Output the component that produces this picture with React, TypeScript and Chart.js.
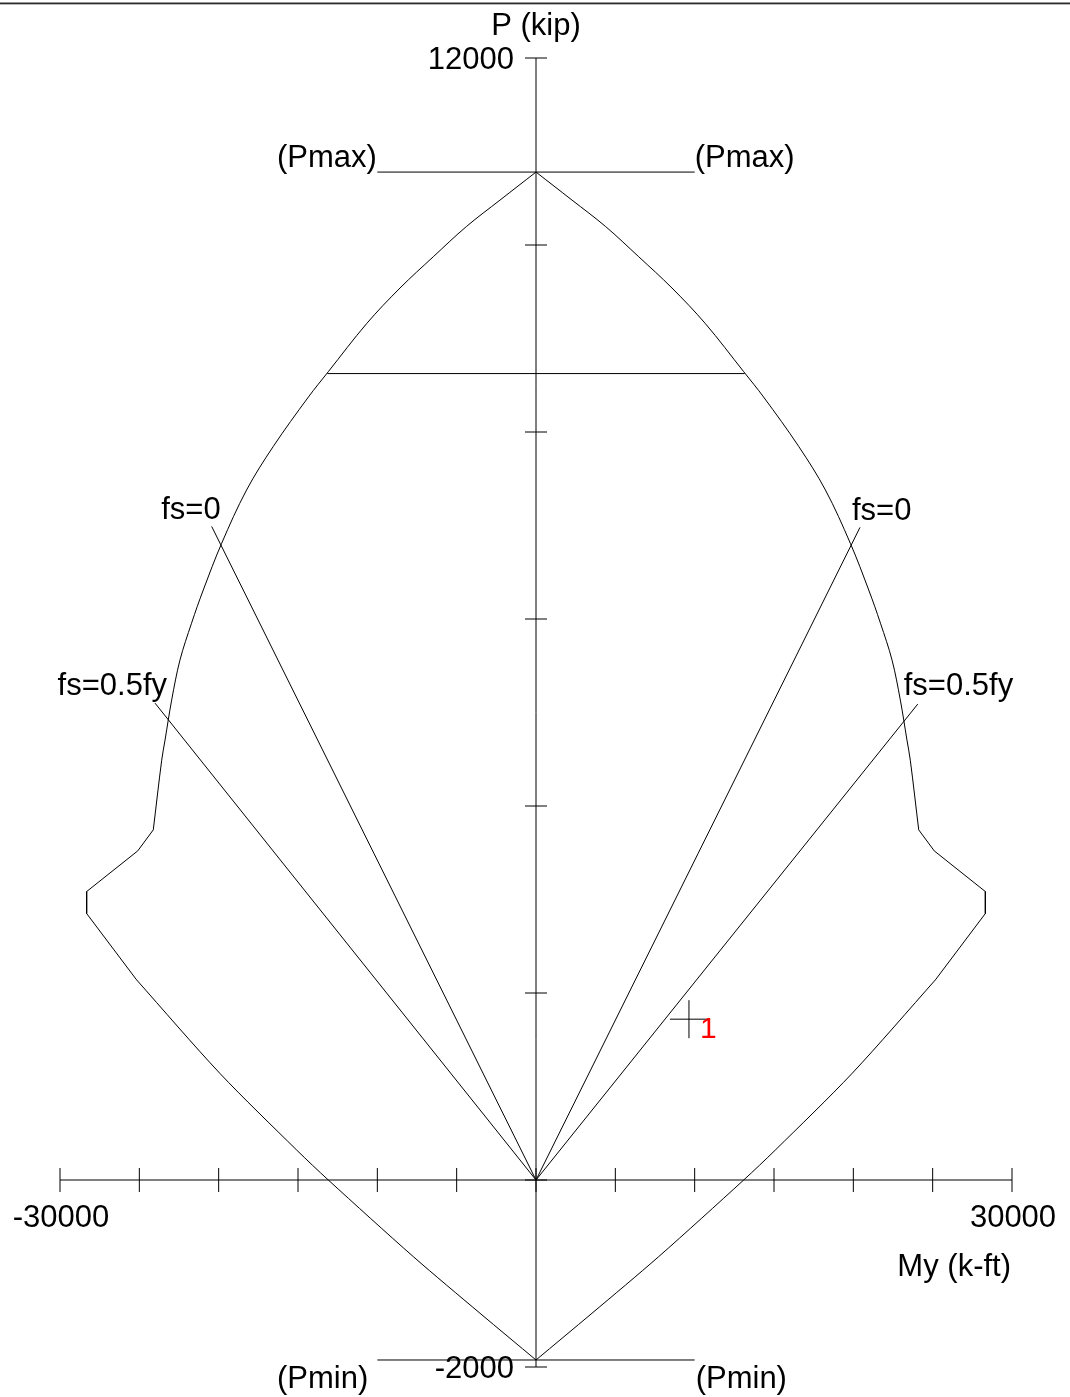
import React, { useEffect, useRef } from "react";
import { Chart, registerables } from "chart.js";

Chart.register(...registerables);

// ---- Data (M in k-ft, P in kip) ----
// Left half of the interaction curve: upper smooth branch, kink segment, lower smooth branch
const upperLeftM = [0, -2270, -4370, -6470, -8570, -10670, -13090, -14340, -16560, -18240, -19810, -20970, -21710, -22440, -22960, -23380, -23590, -24120];
const upperLeftP = [10780, 10480, 10200, 9875, 9540, 9160, 8645, 8375, 7845, 7380, 6810, 6310, 5955, 5560, 5135, 4705, 4490, 3745];
const kinkLeftM = [-24120, -25100, -28320, -28320, -25170];
const kinkLeftP = [3745, 3520, 3085, 2850, 2140];
const lowerLeftM = [-25170, -19920, -15080, -13090, -7730, -3530, 0];
const lowerLeftP = [2140, 1140, 320, 0, -820, -1425, -1925];

// Right half
const upperRightM = [0, 2270, 4370, 6470, 8570, 10670, 13090, 14340, 16560, 18240, 19810, 20970, 21710, 22440, 22960, 23380, 23590, 24120];
const upperRightP = [10780, 10480, 10200, 9875, 9540, 9160, 8645, 8375, 7845, 7380, 6810, 6310, 5955, 5560, 5135, 4705, 4490, 3745];
const kinkRightM = [24120, 25100, 28320, 28320, 25170];
const kinkRightP = [3745, 3520, 3085, 2850, 2140];
const lowerRightM = [25170, 19920, 15080, 13090, 7730, 3530, 0];
const lowerRightP = [2140, 1140, 320, 0, -820, -1425, -1925];

const pMax = 10780;
const pMin = -1925;
const pMaxLineM = [-10000, 10000];
const pMinLineM = [-10000, 10000];
const p80LineM = [-13150, 13150];
const p80 = 8625;

const fs0LeftEnd = { m: -20440, p: 6990 };
const fs0RightEnd = { m: 20420, p: 6980 };
const fs05LeftEnd = { m: -24010, p: 5100 };
const fs05RightEnd = { m: 24060, p: 5090 };

const loadPointM = [9640];
const loadPointP = [1720];
const loadPointLabels = ["1"];

const xTicks = [-30000, -25000, -20000, -15000, -10000, -5000, 0, 5000, 10000, 15000, 20000, 25000, 30000];
const yTicks = [-2000, 0, 2000, 4000, 6000, 8000, 10000, 12000];
const xTickLabelValues = [-30000, 30000];
const xTickLabelTexts = ["-30000", "30000"];
const yTickLabelValues = [12000, -2000];
const yTickLabelTexts = ["12000", "-2000"];

const X_MIN = -30000;
const X_MAX = 30000;
const Y_MIN = -2000;
const Y_MAX = 12000;

const FONT = '31px "Liberation Sans", Arial, Helvetica, sans-serif';

const toXY = (ms: number[], ps: number[]) => ms.map((m, i) => ({ x: m, y: ps[i] }));

const lineDs = (data: { x: number; y: number }[], tension = 0) => ({
  data,
  showLine: true,
  borderColor: "#000",
  borderWidth: 1,
  pointRadius: 0,
  pointHoverRadius: 0,
  fill: false,
  tension,
  clip: false as const,
});

const pmPlugin = {
  id: "pmDiagram",
  beforeDraw(chart: any) {
    const { ctx, width, height } = chart;
    ctx.save();
    ctx.fillStyle = "#ffffff";
    ctx.fillRect(0, 0, width, height);
    // top frame line
    ctx.fillStyle = "#2e2e2e";
    ctx.fillRect(0, 2.5, width, 1.5);
    ctx.fillStyle = "#b8b8b8";
    ctx.fillRect(0, 4, width, 1);
    ctx.restore();
  },
  beforeDatasetsDraw(chart: any) {
    const { ctx } = chart;
    const xs = chart.scales.x;
    const ys = chart.scales.y;
    const x0 = xs.getPixelForValue(0);
    const y0 = ys.getPixelForValue(0);
    ctx.save();
    ctx.strokeStyle = "#000";
    ctx.lineWidth = 1;
    ctx.beginPath();
    // x axis
    ctx.moveTo(xs.getPixelForValue(X_MIN), y0);
    ctx.lineTo(xs.getPixelForValue(X_MAX), y0);
    xTicks.forEach((v) => {
      const px = xs.getPixelForValue(v);
      ctx.moveTo(px, y0 - 12);
      ctx.lineTo(px, y0 + 12);
    });
    // y axis
    ctx.moveTo(x0, ys.getPixelForValue(Y_MAX));
    ctx.lineTo(x0, ys.getPixelForValue(Y_MIN));
    yTicks.forEach((v) => {
      const py = ys.getPixelForValue(v);
      ctx.moveTo(x0 - 11, py);
      ctx.lineTo(x0 + 11, py);
    });
    ctx.stroke();
    ctx.restore();
  },
  afterDatasetsDraw(chart: any) {
    const { ctx } = chart;
    const xs = chart.scales.x;
    const ys = chart.scales.y;
    const x0 = xs.getPixelForValue(0);
    const y0 = ys.getPixelForValue(0);
    ctx.save();
    ctx.font = FONT;
    ctx.fillStyle = "#000";
    ctx.textBaseline = "alphabetic";

    // axis titles
    ctx.textAlign = "center";
    ctx.fillText("P (kip)", x0, ys.getPixelForValue(Y_MAX) - 23);
    ctx.textAlign = "right";
    ctx.fillText("My (k-ft)", xs.getPixelForValue(X_MAX) - 1, y0 + 96);

    // tick labels
    ctx.textAlign = "right";
    yTickLabelValues.forEach((v, i) => {
      ctx.fillText(yTickLabelTexts[i], x0 - 22, ys.getPixelForValue(v) + 11);
    });
    ctx.textAlign = "center";
    xTickLabelValues.forEach((v, i) => {
      ctx.fillText(xTickLabelTexts[i], xs.getPixelForValue(v) + 1, y0 + 47);
    });

    // Pmax / Pmin labels
    const yPmax = ys.getPixelForValue(pMax);
    const yPmin = ys.getPixelForValue(pMin);
    ctx.textAlign = "left";
    ctx.fillText("(Pmax)", 277, yPmax - 5);
    ctx.fillText("(Pmax)", xs.getPixelForValue(pMaxLineM[1]), yPmax - 5);
    ctx.fillText("(Pmin)", 277, yPmin + 28);
    ctx.fillText("(Pmin)", xs.getPixelForValue(pMinLineM[1]) + 1, yPmin + 28);

    // fs labels
    ctx.textAlign = "right";
    ctx.fillText("fs=0", xs.getPixelForValue(fs0LeftEnd.m) + 9, ys.getPixelForValue(fs0LeftEnd.p) - 7);
    ctx.fillText("fs=0.5fy", xs.getPixelForValue(fs05LeftEnd.m) + 12, ys.getPixelForValue(fs05LeftEnd.p) - 8);
    ctx.textAlign = "left";
    ctx.fillText("fs=0", xs.getPixelForValue(fs0RightEnd.m) - 8, ys.getPixelForValue(fs0RightEnd.p) - 7);
    ctx.fillText("fs=0.5fy", xs.getPixelForValue(fs05RightEnd.m) - 14, ys.getPixelForValue(fs05RightEnd.p) - 9);

    // load point label
    ctx.fillStyle = "#ff0000";
    ctx.font = '30px "Liberation Sans", Arial, Helvetica, sans-serif';
    loadPointM.forEach((m, i) => {
      ctx.fillText(loadPointLabels[i], xs.getPixelForValue(m) + 11, ys.getPixelForValue(loadPointP[i]) + 19);
    });
    ctx.restore();
  },
};

export default function App() {
  const canvasRef = useRef<HTMLCanvasElement | null>(null);

  useEffect(() => {
    document.body.style.margin = "0";
    const canvas = canvasRef.current;
    if (!canvas) return;
    const chart = new Chart(canvas, {
      type: "scatter",
      data: {
        datasets: [
          lineDs(toXY(upperLeftM, upperLeftP), 0.35),
          lineDs(toXY(kinkLeftM, kinkLeftP), 0),
          lineDs(toXY(lowerLeftM, lowerLeftP), 0.3),
          lineDs(toXY(upperRightM, upperRightP), 0.35),
          lineDs(toXY(kinkRightM, kinkRightP), 0),
          lineDs(toXY(lowerRightM, lowerRightP), 0.3),
          lineDs(toXY(pMaxLineM, [pMax, pMax])),
          lineDs(toXY(p80LineM, [p80, p80])),
          lineDs(toXY(pMinLineM, [pMin, pMin])),
          lineDs(toXY([0, fs0LeftEnd.m], [0, fs0LeftEnd.p])),
          lineDs(toXY([0, fs0RightEnd.m], [0, fs0RightEnd.p])),
          lineDs(toXY([0, fs05LeftEnd.m], [0, fs05LeftEnd.p])),
          lineDs(toXY([0, fs05RightEnd.m], [0, fs05RightEnd.p])),
          {
            data: toXY(loadPointM, loadPointP),
            showLine: false,
            pointStyle: "cross",
            pointRadius: 19,
            pointHoverRadius: 19,
            borderColor: "#000",
            backgroundColor: "#000",
            borderWidth: 1,
            clip: false as const,
          },
        ] as any,
      },
      options: {
        animation: false,
        responsive: false,
        devicePixelRatio: 1,
        events: [],
        layout: { padding: { left: 60, right: 58, top: 58, bottom: 30 } },
        scales: {
          x: { type: "linear", min: X_MIN, max: X_MAX, display: false },
          y: { type: "linear", min: Y_MIN, max: Y_MAX, display: false },
        },
        plugins: {
          legend: { display: false },
          tooltip: { enabled: false },
          title: { display: false },
        },
      },
      plugins: [pmPlugin],
    });
    return () => chart.destroy();
  }, []);

  return (
    <div style={{ position: "absolute", left: 0, top: 0, width: 1070, height: 1397, background: "#fff" }}>
      <canvas ref={canvasRef} width={1070} height={1397} style={{ display: "block", width: 1070, height: 1397 }} />
    </div>
  );
}
